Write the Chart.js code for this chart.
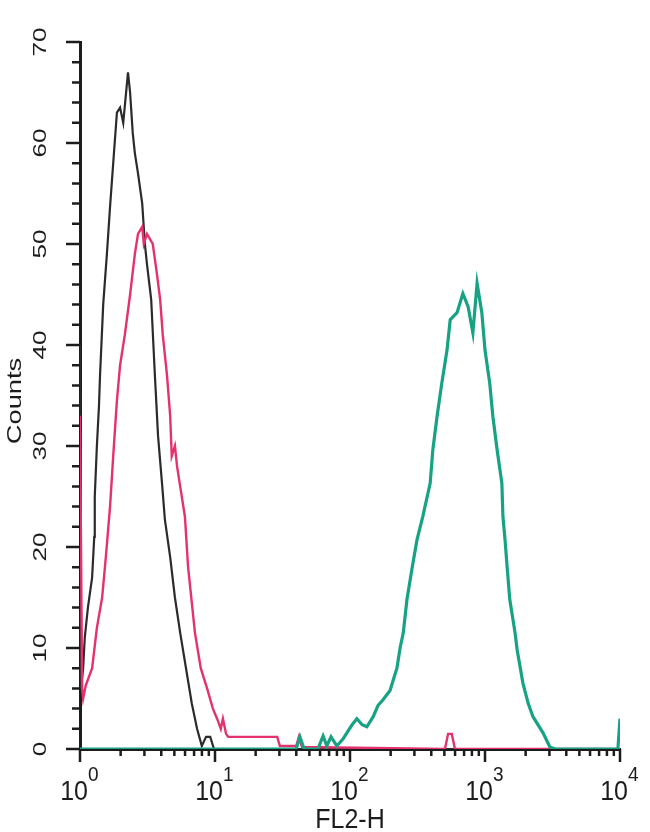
<!DOCTYPE html>
<html>
<head>
<meta charset="utf-8">
<title>FL2-H histogram</title>
<script src="https://cdn.jsdelivr.net/npm/chart.js@4.4.1/dist/chart.umd.min.js"></script>
<style>
  html, body { margin: 0; padding: 0; background: #fff; }
  canvas { display: block; }
</style>
</head>
<body>
<canvas id="hist" width="650" height="832"></canvas>
<script>
'use strict';

// ── Data ─────────────────────────────────────────────────────────────────────
// x = FL2-H channel (0..1024 spans 4 decades, 10^0..10^4), y = counts

const blackChannel = [0, 2, 6, 9, 15, 23, 27, 28, 32, 36, 38, 44, 51, 57, 63, 70, 76, 82, 91, 95, 100,
  104, 110, 118, 123, 127, 135, 142, 148, 156, 161, 171, 180, 190, 201, 212, 222, 231, 239, 247, 254, 1024];
const blackCount = [40, 6, 8, 11, 14, 17, 21, 25, 30, 34, 37, 44, 49, 53.7, 58, 63, 63.5, 62, 67, 65, 61,
  59, 57, 54, 50, 48, 44.5, 37, 31, 26, 22.7, 19, 15, 11.5, 8, 4.5, 2, 0.3, 1.2, 1.2, 0, 0];

const pinkChannel = [0, 4, 6, 11, 23, 32, 42, 49, 57, 63, 70, 76, 85, 95, 104, 110, 118, 121, 127, 138,
  146, 152, 157, 165, 171, 174, 180, 184, 190, 199, 205, 218, 229, 241, 252, 260, 267, 271, 277, 281,
  374, 379, 410, 415, 421, 692, 698, 705, 711, 1024];
const pinkCount = [33, 6, 5, 6.3, 8, 12, 15, 19, 24, 29, 34.5, 38, 41, 45, 49, 51, 51.7, 50, 51, 50,
  47, 44.5, 41, 37, 33, 29, 30, 28, 26, 23, 18, 11.5, 8, 6, 4, 3, 2, 3, 1.5, 1.2,
  1.2, 0.3, 0.3, 1.2, 0.2, 0, 1.5, 1.5, 0, 0];

const greenChannel = [0, 410, 417, 425, 451, 461, 468, 476, 487, 499, 506, 516, 525, 535, 544, 556, 565,
  575, 588, 595, 601, 607, 613, 620, 630, 639, 650, 664, 669, 677, 686, 696, 702, 715, 726, 736, 745,
  753, 762, 768, 777, 783, 791, 800, 802, 806, 810, 815, 825, 829, 840, 850, 859, 878, 891, 901, 1020, 1024];
const greenCount = [0, 0, 1.2, 0, 0, 1.3, 0.3, 1.2, 0.3, 1, 1.6, 2.4, 3, 2.4, 2.2, 3.2, 4.3,
  4.9, 5.8, 7, 8, 10, 11.5, 14.8, 18, 20.7, 23, 26.3, 29.6, 32.9, 36.2, 39.5, 42.5, 43.2, 45.1, 43.8, 41.2,
  46.1, 43.2, 39.5, 36.2, 32.9, 29.6, 26.3, 23, 20.7, 18, 14.8, 11.5, 9.8, 6.5, 4.5, 3.2, 1.6, 0.2, 0, 0, 3];

// Axis ticks
const yMajorTicks = [0, 10, 20, 30, 40, 50, 60, 70];
const yMinorStep = 2;
const xDecadeChannels = [0, 256, 512, 768, 1024];
const xDecadeExponents = ['0', '1', '2', '3', '4'];
const xTitle = 'FL2-H';
const yTitle = 'Counts';

// ── Styling ──────────────────────────────────────────────────────────────────

const INK = '#1c1c1c';
const FONT = '"Liberation Sans", Arial, sans-serif';

function series(ch, counts) {
  return ch.map((c, i) => ({ x: c, y: counts[i] }));
}

// draws text stretched vertically on screen (the reference is a tall upscaled scan)
function stretchedText(ctx, text, x, y, sy, rotated) {
  ctx.save();
  ctx.translate(x, y);
  ctx.scale(1, sy);
  if (rotated) ctx.rotate(-Math.PI / 2);
  ctx.fillText(text, 0, 0);
  ctx.restore();
}

// ── Axis ticks, labels and titles ────────────────────────────────────────────

const axisDecor = {
  id: 'axisDecor',
  afterDraw(chart) {
    const { ctx, chartArea: area, scales: { x, y } } = chart;
    ctx.save();
    ctx.strokeStyle = INK;
    ctx.lineWidth = 2.5;
    ctx.beginPath();

    // y: major every 10, minor every 2
    const yMax = yMajorTicks[yMajorTicks.length - 1];
    for (let v = 0; v <= yMax; v += yMinorStep) {
      const py = y.getPixelForValue(v);
      const len = v % 10 === 0 ? 14 : 8;
      ctx.moveTo(area.left - len, py);
      ctx.lineTo(area.left, py);
    }

    // x: decades + log minor ticks (2..9)
    const perDecade = xDecadeChannels[1] - xDecadeChannels[0];
    xDecadeChannels.forEach((c, d) => {
      const px = x.getPixelForValue(c);
      ctx.moveTo(px, area.bottom);
      ctx.lineTo(px, area.bottom + 13);
      if (d === xDecadeChannels.length - 1) return;
      for (let k = 2; k <= 9; k++) {
        const mx = x.getPixelForValue(c + perDecade * Math.log10(k));
        ctx.moveTo(mx, area.bottom);
        ctx.lineTo(mx, area.bottom + 7);
      }
    });
    ctx.stroke();

    ctx.fillStyle = INK;

    // y tick labels, rotated
    ctx.textAlign = 'center';
    ctx.textBaseline = 'alphabetic';
    ctx.font = '18px ' + FONT;
    yMajorTicks.forEach(v => {
      stretchedText(ctx, String(v), 46, y.getPixelForValue(v), 1.45, true);
    });

    // x tick labels: 10 with superscript exponent
    xDecadeChannels.forEach((c, i) => {
      const px = x.getPixelForValue(c);
      ctx.textAlign = 'right';
      ctx.font = '25px ' + FONT;
      stretchedText(ctx, '10', px + 8, 800, 1.1, false);
      ctx.textAlign = 'left';
      ctx.font = '19px ' + FONT;
      stretchedText(ctx, xDecadeExponents[i], px + 8, 781, 1.1, false);
    });

    // axis titles
    ctx.textAlign = 'center';
    ctx.font = '21px ' + FONT;
    stretchedText(ctx, yTitle, 21, 401, 1.3, true);
    ctx.font = '25px ' + FONT;
    stretchedText(ctx, xTitle, x.getPixelForValue(512), 828, 1.1, false);

    ctx.restore();
  },
};

// ── Chart ────────────────────────────────────────────────────────────────────

const lineStyle = { pointRadius: 0, tension: 0, fill: false };

new Chart(document.getElementById('hist'), {
  type: 'line',
  data: {
    // first dataset is drawn on top
    datasets: [
      { ...lineStyle, label: 'stained', data: series(greenChannel, greenCount), borderColor: '#17a383', borderWidth: 3.2 },
      { ...lineStyle, label: 'isotype', data: series(pinkChannel, pinkCount), borderColor: '#e3326c', borderWidth: 2.4 },
      { ...lineStyle, label: 'unstained', data: series(blackChannel, blackCount), borderColor: '#2b2b2b', borderWidth: 2.2 },
    ],
  },
  options: {
    responsive: false,
    animation: false,
    devicePixelRatio: 1,
    layout: { padding: { left: 80, top: 42, right: 30, bottom: 83 } },
    plugins: { legend: { display: false }, tooltip: { enabled: false } },
    scales: {
      x: {
        type: 'linear',
        min: 0,
        max: 1024,
        grid: { display: false, drawTicks: false },
        border: { display: true, color: INK, width: 3 },
        ticks: { display: false },
      },
      y: {
        min: 0,
        max: 70,
        grid: { display: false, drawTicks: false },
        border: { display: true, color: INK, width: 3 },
        ticks: { display: false },
      },
    },
  },
  plugins: [axisDecor],
});
</script>
</body>
</html>
